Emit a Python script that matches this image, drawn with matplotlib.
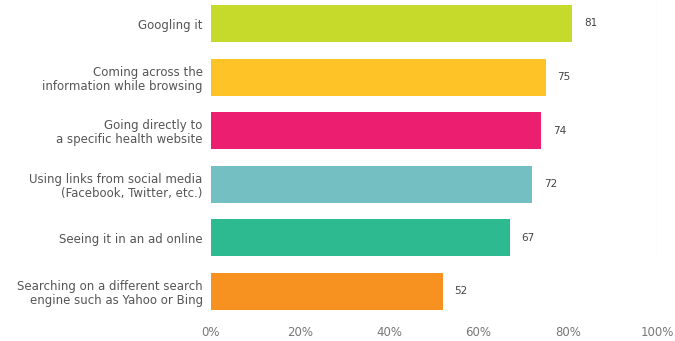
import matplotlib
matplotlib.use("Agg")
import matplotlib.pyplot as plt

# sources people use to find health information (%)
categorias = [
    "Googling it",
    "Coming across the\ninformation while browsing",
    "Going directly to\na specific health website",
    "Using links from social media\n(Facebook, Twitter, etc.)",
    "Seeing it in an ad online",
    "Searching on a different search\nengine such as Yahoo or Bing",
]
valores = [81, 75, 74, 72, 67, 52]
cores = ["#c6da2b", "#fec326", "#ec1e6f", "#74bfc1", "#2dba90", "#f7911f"]
ticks_x = [0, 20, 40, 60, 80, 100]
rotulos_x = ["0%", "20%", "40%", "60%", "80%", "100%"]

W, H = 675, 341
fig = plt.figure(figsize=(W / 100, H / 100), dpi=100)
ax = fig.add_axes([211 / W, 1 - 315 / H, 446 / W, 315 / H])

pos = list(range(len(categorias)))
ax.barh(pos, valores, height=0.69, color=cores)

# linha bem clara no 100%
ax.axvline(100, ymin=0.18, ymax=1, color="#f0f0f0", lw=1, zorder=0)

for p, v in zip(pos, valores):
    ax.text(v + 2.6, p, str(v), va="center", ha="left", fontsize=7.5, color="#444444")

ax.set_xlim(0, 100)
ax.set_ylim(5 + 23.5 / 53.6, -23.5 / 53.6)
ax.set_yticks(pos)
ax.set_yticklabels(categorias, fontsize=8.5, color="#555555", linespacing=1.1)
ax.set_xticks(ticks_x)
ax.set_xticklabels(rotulos_x, fontsize=8.5, color="#777777")
ax.tick_params(axis="both", length=0)
ax.tick_params(axis="y", pad=6)
ax.tick_params(axis="x", pad=8)
for s in ax.spines.values():
    s.set_visible(False)

fig.savefig("out.png", dpi=100)
